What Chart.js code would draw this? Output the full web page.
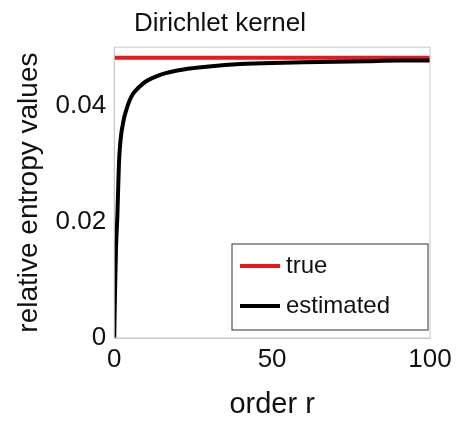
<!DOCTYPE html>
<html><head><meta charset="utf-8">
<script src="https://cdn.jsdelivr.net/npm/chart.js@4/dist/chart.umd.min.js"></script>
<style>body{margin:0;background:#fff}#wrap{width:474px;height:440px}</style>
</head><body><div id="wrap"><canvas id="c"></canvas></div>
<script>
var orderR = [0, 0.3, 0.6, 1, 1.5, 2, 3, 4, 5, 6, 8, 10, 13, 16, 20, 25, 30, 40, 50, 60, 70, 80, 90, 100];
var estimated = [0, 0.009, 0.016, 0.021, 0.030, 0.034, 0.0375, 0.0395, 0.041, 0.042, 0.0432, 0.0441, 0.0449, 0.0455, 0.046, 0.0464, 0.0467, 0.0471, 0.0473, 0.0474, 0.0475, 0.0476, 0.0477, 0.0477];
var trueX = [0, 100];
var trueVal = [0.0482, 0.0482];
var xTicks = [0, 50, 100];
var yTicks = [0, 0.02, 0.04];

var font = "Helvetica, 'Liberation Sans', Arial, sans-serif";
var boxPlugin = {
  id: 'box',
  afterDraw: function (chart) {
    var ctx = chart.ctx, a = chart.chartArea;
    ctx.save();
    ctx.strokeStyle = '#c8c8c8'; ctx.lineWidth = 1;
    ctx.strokeRect(a.left, a.top, a.right - a.left, a.bottom - a.top);
    // legend inside bottom-right
    var w = 196, h = 86, x = a.right - w - 2, y = a.bottom - h - 8;
    ctx.fillStyle = '#fff'; ctx.fillRect(x, y, w, h);
    ctx.strokeStyle = '#333'; ctx.strokeRect(x, y, w, h);
    ctx.font = '24px ' + font; ctx.textBaseline = 'middle';
    chart.data.datasets.slice().reverse().forEach(function (ds, i) {
      var ly = y + 22 + i * 40;
      ctx.strokeStyle = ds.borderColor; ctx.lineWidth = 4;
      ctx.beginPath(); ctx.moveTo(x + 8, ly); ctx.lineTo(x + 48, ly); ctx.stroke();
      ctx.fillStyle = '#111'; ctx.fillText(ds.label, x + 54, ly);
    });
    ctx.restore();
  }
};

new Chart(document.getElementById('c'), {
  type: 'scatter',
  data: {
    datasets: [
      { label: 'estimated', data: orderR.map(function (r, i) { return { x: r, y: estimated[i] }; }),
        showLine: true, borderColor: '#000', borderWidth: 4, pointRadius: 0, tension: 0.3, cubicInterpolationMode: 'monotone' },
      { label: 'true', data: trueX.map(function (r, i) { return { x: r, y: trueVal[i] }; }),
        showLine: true, borderColor: '#e8191c', borderWidth: 4, pointRadius: 0 }
    ]
  },
  options: {
    responsive: true, maintainAspectRatio: false, animation: false,
    layout: { padding: { top: 2, right: 44, bottom: 14, left: 10 } },
    plugins: {
      legend: { display: false },
      title: { display: true, text: 'Dirichlet kernel', color: '#111', font: { family: font, size: 26, weight: 'normal' }, padding: { top: 6, bottom: 8 } }
    },
    scales: {
      x: { type: 'linear', min: 0, max: 100,
        afterBuildTicks: function (s) { s.ticks = xTicks.map(function (v) { return { value: v }; }); },
        grid: { display: false, drawTicks: false },
        border: { color: '#c8c8c8' },
        ticks: { color: '#111', font: { family: font, size: 26 }, padding: 6 },
        title: { display: true, text: 'order r', color: '#111', font: { family: font, size: 29 }, padding: { top: 6 } } },
      y: { min: 0, max: 0.05,
        afterBuildTicks: function (s) { s.ticks = yTicks.map(function (v) { return { value: v }; }); },
        grid: { display: false, drawTicks: false },
        border: { color: '#c8c8c8' },
        ticks: { color: '#111', font: { family: font, size: 26 }, padding: 8, callback: function (v) { return String(v); } },
        title: { display: true, text: 'relative entropy values', color: '#111', font: { family: font, size: 28 }, padding: 2 } }
    }
  },
  plugins: [boxPlugin]
});
</script></body></html>
